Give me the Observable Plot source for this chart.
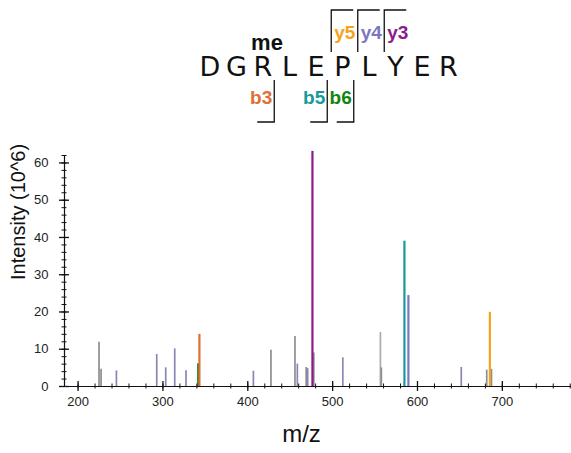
<!DOCTYPE html>
<html>
<head>
<meta charset="utf-8">
<script src="https://cdn.jsdelivr.net/npm/d3@7"></script>
<script src="https://cdn.jsdelivr.net/npm/@observablehq/plot@0.6"></script>
<style>
  body { margin: 0; background: #fff; }
  #chart svg { display: block; }
</style>
</head>
<body>
<div id="chart"></div>
<script>
// ---- Peptide annotation ----
const sequence = ["D", "G", "R", "L", "E", "P", "L", "Y", "E", "R"];
const modLabel = "me";
const modSite = 2;
const yIonLabels = ["y5", "y4", "y3"];
const yIonSites = [5, 6, 7];
const yIonColors = ["#f7a21b", "#7a78c0", "#8c1a8c"];
const bIonLabels = ["b3", "b5", "b6"];
const bIonSites = [3, 5, 6];
const bIonColors = ["#dc7035", "#17999a", "#10860f"];

// ---- Spectrum: unassigned peaks ----
const peakMz = [224.7, 227.1, 245.2, 292.7, 303.3, 313.9, 327.2, 406.6, 427.3, 455.6, 458.4, 468.8, 470.6, 477.8, 512.0, 556.3, 557.4, 651.6, 681.6, 687.2];
const peakIntensity = [11.9, 4.6, 4.2, 8.6, 5.0, 10.1, 4.2, 4.1, 9.7, 13.4, 6.0, 5.1, 4.8, 9.0, 7.7, 14.5, 5.0, 5.1, 4.4, 4.6];
const peakShade = ["g", "g", "b", "b", "b", "b", "b", "b", "g", "g", "b", "g", "b", "g", "b", "l", "g", "b", "g", "g"];

// ---- Spectrum: assigned ion peaks ----
const ionPeakLabels = ["b6", "b3", "y3", "b5", "y4", "y5"];
const ionPeakMz = [341.6, 343.0, 476.2, 584.6, 589.3, 685.3];
const ionPeakIntensity = [6.1, 14.0, 63.1, 39.0, 24.4, 19.9];

// ---- Axes ----
const xTicks = [200, 300, 400, 500, 600, 700];
const xMinorTicks = d3.range(200, 781, 20);
const yTicks = [0, 10, 20, 30, 40, 50, 60];
const yMinorTicks = d3.range(0, 63, 2);
const xDomain = [184, 781.5];
const yDomain = [0, 62];

const shadeColor = {g: "#8e8e8e", b: "#8787b6", l: "#ababab"};
const ionColor = {};
yIonLabels.forEach((l, i) => ionColor[l] = yIonColors[i]);
bIonLabels.forEach((l, i) => ionColor[l] = bIonColors[i]);

const peaks = peakMz.map((mz, i) => ({mz, intensity: peakIntensity[i], color: shadeColor[peakShade[i]]}));
const ions = ionPeakMz.map((mz, i) => ({mz, intensity: ionPeakIntensity[i], color: ionColor[ionPeakLabels[i]]}));

// ---- Annotation drawing (above the plot) ----
const annoH = 130;
const x0 = 210, step = 26.5;
const cx = i => x0 + i * step;
const cut = s => x0 + (s - 0.5) * step;
const anno = d3.create("svg").attr("width", 571).attr("height", annoH);
anno.append("g").selectAll("text").data(sequence).join("text")
  .attr("x", (d, i) => cx(i)).attr("y", 76)
  .attr("text-anchor", "middle")
  .attr("font-family", "DejaVu Sans, sans-serif")
  .attr("font-size", 27).attr("fill", "#111").text(d => d);
anno.append("text").attr("x", cx(modSite) + 4).attr("y", 50)
  .attr("text-anchor", "middle").attr("font-family", "Liberation Sans, Arial, sans-serif")
  .attr("font-weight", "bold").attr("font-size", 22).attr("fill", "#111").text(modLabel);
yIonLabels.forEach((l, i) => {
  const x = cut(yIonSites[i]) + 2;
  anno.append("path").attr("d", `M${x},52V10H${x + 22}`).attr("fill", "none").attr("stroke", "#111").attr("stroke-width", 1.3);
  anno.append("text").attr("x", x + 3).attr("y", 39).attr("font-family", "Liberation Sans, Arial, sans-serif")
    .attr("font-weight", "bold").attr("font-size", 19).attr("fill", yIonColors[i]).text(l);
});
bIonLabels.forEach((l, i) => {
  const x = cut(bIonSites[i]) - 2;
  anno.append("path").attr("d", `M${x},80V122H${x - 17}`).attr("fill", "none").attr("stroke", "#111").attr("stroke-width", 1.3);
  anno.append("text").attr("x", x - 2).attr("y", 104).attr("text-anchor", "end").attr("font-family", "Liberation Sans, Arial, sans-serif")
    .attr("font-weight", "bold").attr("font-size", 19).attr("fill", bIonColors[i]).text(l);
});
document.getElementById("chart").append(anno.node());

// ---- Spectrum plot ----
const plot = Plot.plot({
  width: 571,
  height: 453 - annoH,
  marginLeft: 64,
  marginRight: 0,
  marginTop: 25,
  marginBottom: 67,
  x: {domain: xDomain, axis: null},
  y: {domain: yDomain, axis: null},
  color: {type: "identity"},
  style: {fontFamily: "Liberation Sans, Arial, sans-serif", background: "white", overflow: "visible", color: "#111"},
  marks: [
    Plot.ruleX(peaks, {x: "mz", y1: 0, y2: "intensity", stroke: "color", strokeWidth: 1.7}),
    Plot.ruleX(ions, {x: "mz", y1: 0, y2: "intensity", stroke: "color", strokeWidth: 2.2}),
    Plot.ruleY([0], {stroke: "#111", strokeWidth: 1.2}),
    Plot.ruleX([xDomain[0]], {y1: yDomain[0], y2: yDomain[1], stroke: "#111", strokeWidth: 1.2}),
    Plot.axisX(xTicks, {tickSize: 10, dy: -5, fill: "none", label: null, stroke: "#111", strokeWidth: 1.3}),
    Plot.axisX(xMinorTicks, {tickSize: 5, dy: -2.5, fill: "none", label: null, stroke: "#111"}),
    Plot.axisX(xTicks, {tickSize: 0, tickPadding: 10, fontSize: 13, fill: "#222", label: null}),
    Plot.axisY(yTicks, {tickSize: 10, dx: 5, fill: "none", label: null, stroke: "#111", strokeWidth: 1.3}),
    Plot.axisY(yMinorTicks, {tickSize: 5, dx: 2.5, fill: "none", label: null, stroke: "#111"}),
    Plot.axisY(yTicks, {tickSize: 0, tickPadding: 16, fontSize: 13, fill: "#222", label: null}),
    Plot.text(["Intensity (10^6)"], {text: d => d, frameAnchor: "left", dx: -46, dy: 9, rotate: -90, fontSize: 20, fill: "#111"}),
    Plot.text(["m/z"], {text: d => d, frameAnchor: "bottom", dx: -16.5, dy: 55, fontSize: 24, fill: "#111"})
  ]
});
document.getElementById("chart").append(plot);
</script>
</body>
</html>
